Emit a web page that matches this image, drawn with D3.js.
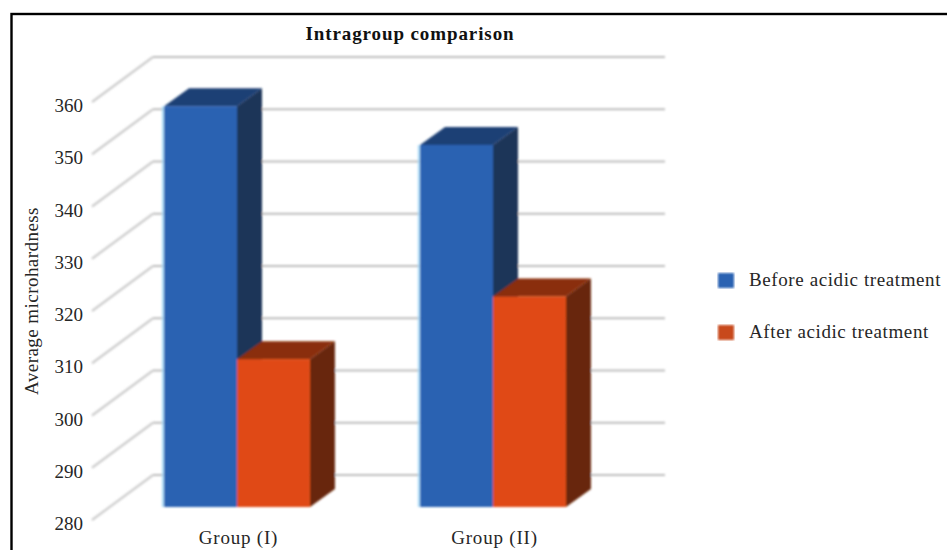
<!DOCTYPE html>
<html><head><meta charset="utf-8">
<script src="https://cdn.jsdelivr.net/npm/d3@7"></script>
<style>html,body{margin:0;padding:0;background:#fff}svg{display:block}text{font-family:"Liberation Serif",serif;fill:#262626}</style>
</head><body><svg id="c" width="947" height="550"></svg>
<script>
const groups=["Group (I)","Group (II)"];
const seriesNames=["Before acidic treatment","After acidic treatment"];
const before=[356.7,349.3];
const after=[308.3,320.3];
const yTicks=[280,290,300,310,320,330,340,350,360];
const faceColors=["#2c62b2","#e04a12"];
const topColors=["#1c3f75","#8a2f08"];
const sideColors=["#1a3558","#682808"];

const svg=d3.select("#c");
const defs=svg.append("defs");
defs.append("filter").attr("id","soft").attr("x","-5%").attr("y","-5%").attr("width","110%").attr("height","110%")
  .append("feGaussianBlur").attr("stdDeviation",0.8);

const y=d3.scaleLinear().domain([280,360]).range([475,57]);
const x0=d3.scaleBand().domain(groups).range([109,621]).paddingInner(0.43).paddingOuter(0.215);
const x1=d3.scaleBand().domain(seriesNames).range([0,x0.bandwidth()]);

const floorFront={dx:-61,dy:45},barFront={dy:32},depth={dx:25,dy:-18};

svg.append("rect").attr("x",11.5).attr("y",14).attr("width",960).attr("height",560)
  .attr("fill","#fff").attr("stroke","#000").attr("stroke-width",2.4);

const plot=svg.append("g").attr("filter","url(#soft)");
plot.selectAll("line.grid").data(yTicks).join("line").attr("class","grid")
  .attr("x1",153).attr("x2",665).attr("y1",d=>y(d)).attr("y2",d=>y(d))
  .attr("stroke","#bdbdbd").attr("stroke-width",2.2);
plot.selectAll("line.wall").data(yTicks).join("line").attr("class","wall")
  .attr("x1",153).attr("x2",153+floorFront.dx).attr("y1",d=>y(d)).attr("y2",d=>y(d)+floorFront.dy)
  .attr("stroke","#cdcdcd").attr("stroke-width",2.2);

const rows=groups.flatMap((g,i)=>[
  {g,s:seriesNames[0],v:before[i],k:0},
  {g,s:seriesNames[1],v:after[i],k:1}
]);
const bar=plot.selectAll("g.bar").data(rows).join("g").attr("class","bar");
const geom=d=>{const l=x0(d.g)+x1(d.s),r=l+x1.bandwidth(),b=y(280)+barFront.dy,t=y(d.v)+barFront.dy;return {l,r,b,t};};
const poly=(sel,fn,col)=>sel.append("polygon").attr("points",d=>fn(geom(d)).map(p=>p.join(",")).join(" ")).attr("fill",d=>col[d.k]);
poly(bar,g=>[[g.r,g.t],[g.r+depth.dx,g.t+depth.dy],[g.r+depth.dx,g.b+depth.dy],[g.r,g.b]],sideColors);
poly(bar,g=>[[g.l,g.t],[g.l+depth.dx,g.t+depth.dy],[g.r+depth.dx,g.t+depth.dy],[g.r,g.t]],topColors);
bar.append("rect").attr("x",d=>geom(d).l).attr("y",d=>geom(d).t)
  .attr("width",x1.bandwidth()).attr("height",d=>geom(d).b-geom(d).t).attr("fill",d=>faceColors[d.k]);
bar.filter(d=>d.k===0).append("line").attr("x1",d=>geom(d).l-1.2).attr("x2",d=>geom(d).l-1.2)
  .attr("y1",d=>geom(d).t).attr("y2",d=>geom(d).b).attr("stroke","#9fd6f6").attr("stroke-width",1.8);

svg.selectAll("text.ytick").data(yTicks).join("text").attr("class","ytick")
  .attr("x",83).attr("y",d=>y(d)+55).attr("text-anchor","end").attr("font-size",19).text(d=>d);
svg.selectAll("text.xtick").data(groups).join("text").attr("class","xtick")
  .attr("x",d=>x0(d)+x0.bandwidth()/2+1.5).attr("y",544).attr("text-anchor","middle")
  .attr("font-size",19).attr("letter-spacing",0.8).text(d=>d);
svg.append("text").attr("transform","translate(38,301) rotate(-90)").attr("text-anchor","middle")
  .attr("font-size",19).attr("letter-spacing",0.45).text("Average microhardness");
svg.append("text").attr("x",410).attr("y",40).attr("text-anchor","middle").attr("font-size",19)
  .attr("font-weight","bold").attr("letter-spacing",0.9).style("fill","#111").text("Intragroup comparison");

const leg=svg.selectAll("g.leg").data(seriesNames).join("g").attr("class","leg")
  .attr("transform",(d,i)=>`translate(718,${273+i*52})`);
leg.append("rect").attr("width",16).attr("height",15).attr("fill",(d,i)=>i?"#c8481a":"#2c62b2").attr("filter","url(#soft)");
leg.append("text").attr("x",31).attr("y",13).attr("font-size",19).attr("letter-spacing",0.6).text(d=>d);
</script></body></html>
